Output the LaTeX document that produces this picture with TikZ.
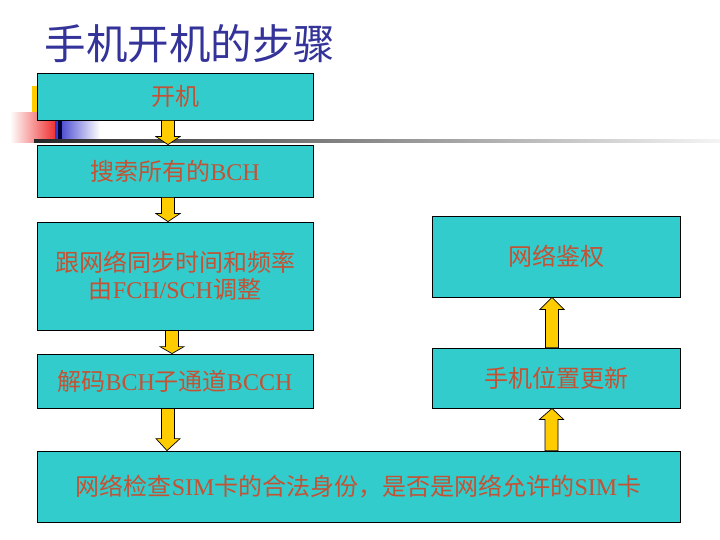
\documentclass[tikz,border=0pt]{standalone}
\usepackage{fontspec}
\setmainfont{Liberation Serif}
\newfontfamily\cjk{Noto Sans CJK SC}
\usetikzlibrary{calc}
\definecolor{boxcyan}{RGB}{51,204,204}
\definecolor{txtred}{RGB}{196,82,52}
\definecolor{titleblue}{RGB}{51,51,153}
\definecolor{arrowyellow}{RGB}{255,204,0}
\definecolor{decoblue}{RGB}{51,51,204}
\definecolor{decored}{RGB}{240,50,50}
\tikzset{
  box/.style={draw=black, fill=boxcyan, line width=0.8pt, text=txtred,
    font=\fontsize{24}{27}\selectfont, inner sep=0pt, align=center},
  blkarrow/.style={draw=black, fill=arrowyellow, line width=0.7pt, line join=miter}
}
% #1 start, #2 end, #3 head length (pt)
\newcommand{\blockarr}[3]{%
  \draw[blkarrow] let \p1=#1, \p2=#2, \p3=($#2!#3pt!#1$) in
    (\x1-6.5pt,\y1) -- (\x1-6.5pt,\y3) -- (\x1-12pt,\y3) -- (\x2,\y2)
    -- (\x1+12pt,\y3) -- (\x1+6.5pt,\y3) -- (\x1+6.5pt,\y1) -- cycle;}
\begin{document}
\begin{tikzpicture}[x=1pt,y=-1pt]
\useasboundingbox (0,0) rectangle (720,540);
\fill[white] (0,0) rectangle (720,540);
% title
\node[text=titleblue, font=\cjk\fontsize{41.5}{45}\selectfont, anchor=center] (title) at (190,44) {手机开机的步骤};
% decoration
\fill[arrowyellow] (32,86) rectangle (38,121);
\shade[left color=white, right color=decored] (10,113) rectangle (55,143);
\shade[left color=decoblue, right color=white] (55,120) rectangle (100,143);
\fill[black!80!blue] (58,120) rectangle (62,143);
\shade[left color=black!85, right color=black!4] (34,140) rectangle (720,143);
% boxes
\node[box, minimum width=276, minimum height=47] (b1) at (175,96.5) {{\cjk 开机}};
\node[box, minimum width=276, minimum height=52] (b2) at (175,171) {{\cjk 搜索所有的}BCH};
\node[box, minimum width=276, minimum height=108] (b3) at (175,276) {{\cjk 跟网络同步时间和频率}\\{\cjk 由}FCH/SCH{\cjk 调整}};
\node[box, minimum width=276, minimum height=54] (b4) at (175,381) {{\cjk 解码}BCH{\cjk 子通道}BCCH};
\node[box, minimum width=643, minimum height=71] (b5) at (358.5,486.5) {{\cjk 网络检查}SIM{\cjk 卡的合法身份，是否是网络允许的}SIM{\cjk 卡}};
\node[box, minimum width=248, minimum height=81] (b6) at (556,256.5) {{\cjk 网络鉴权}};
\node[box, minimum width=248, minimum height=60] (b7) at (556,378) {{\cjk 手机位置更新}};
% arrows
\blockarr{($(b1.south)+(-7,0)$)}{($(b2.north)+(-7,0)$)}{8}
\blockarr{($(b2.south)+(-7,0)$)}{($(b3.north)+(-7,0)$)}{8}
\blockarr{($(b3.south)+(-3,0)$)}{($(b4.north)+(-3,0)$)}{7}
\blockarr{($(b4.south)+(-7,0)$)}{($(b5.north)+(-191.5,0)$)}{12}
\blockarr{($(b5.north)+(193,0)$)}{($(b7.south)+(-4,0)$)}{11}
\blockarr{($(b7.north)+(-4,0)$)}{($(b6.south)+(-4,0)$)}{12}
\end{tikzpicture}
\end{document}
